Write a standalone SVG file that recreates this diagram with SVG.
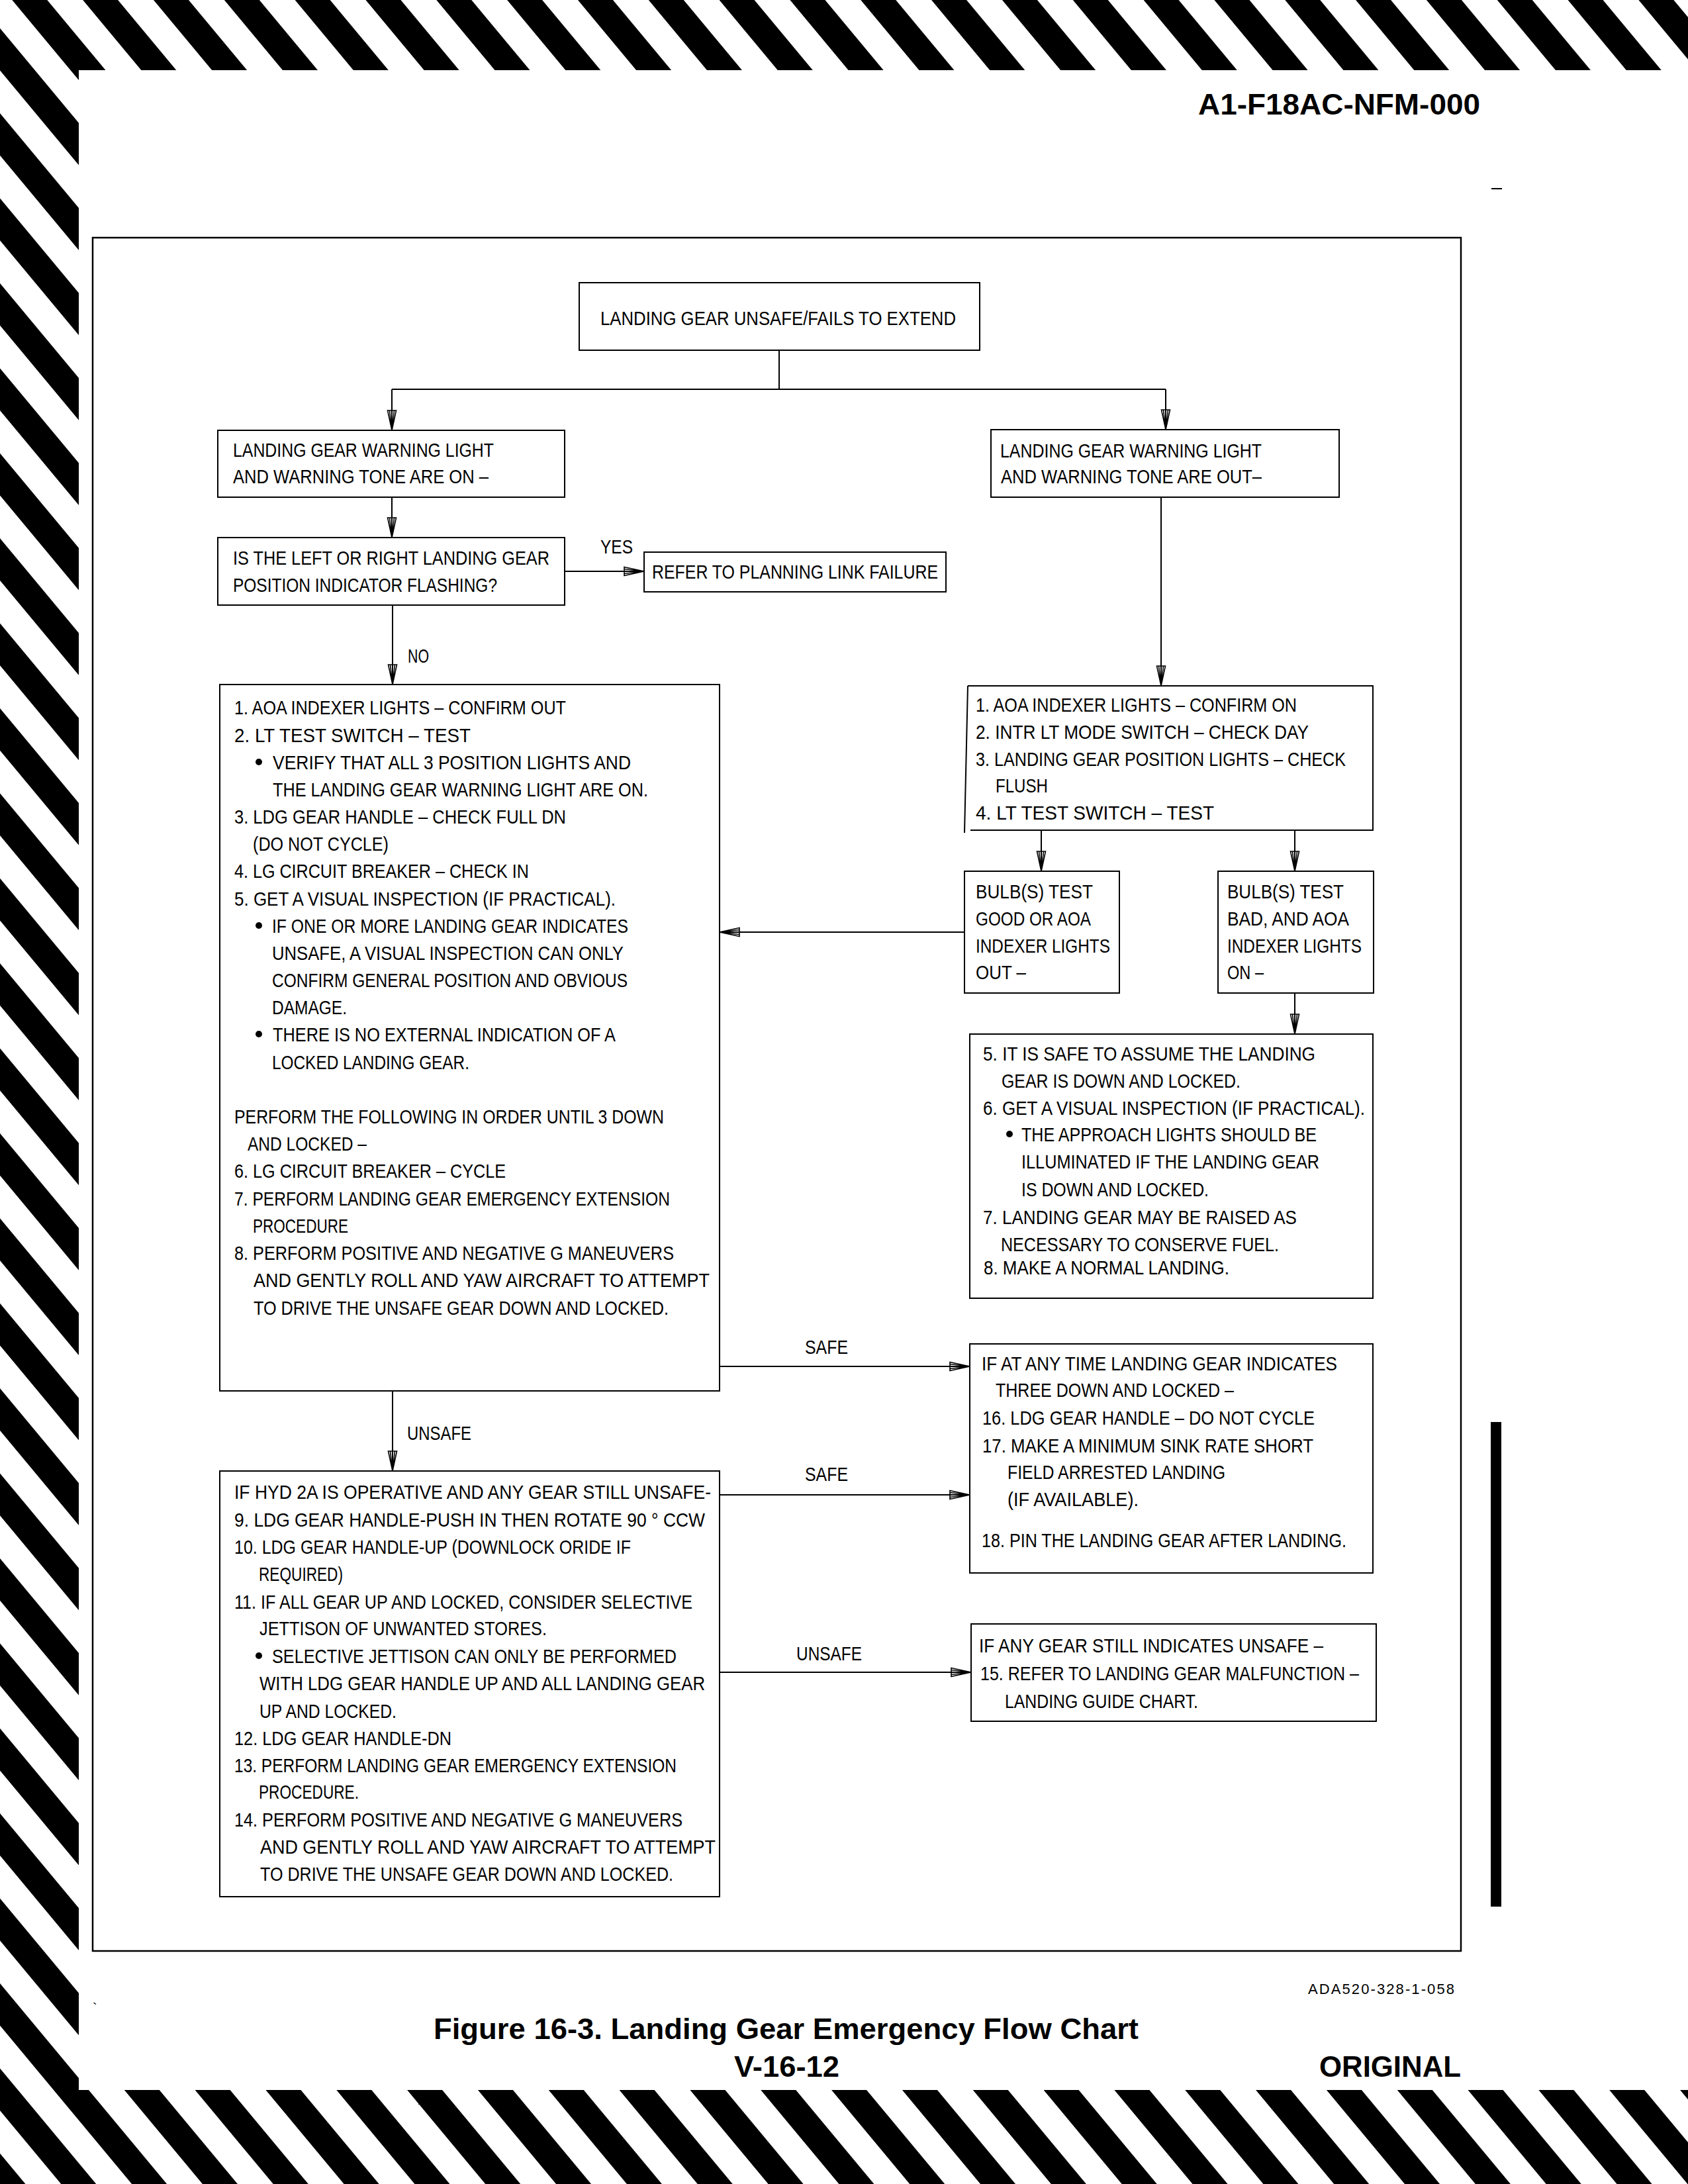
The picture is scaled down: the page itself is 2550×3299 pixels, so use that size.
<svg xmlns="http://www.w3.org/2000/svg" width="2550" height="3299" viewBox="0 0 2550 3299">
<defs>
<pattern id="haz" patternUnits="userSpaceOnUse" width="106.83" height="20" patternTransform="translate(18.3,0) skewX(39.76)">
<rect x="0" y="0" width="53" height="20" fill="#000"/>
</pattern>
<marker id="ah" markerUnits="userSpaceOnUse" markerWidth="34" markerHeight="16" refX="31" refY="8" orient="auto" overflow="visible">
<path d="M1,1.5 L31,8 L1,14.5 Z M1,4.5 L31,8 L1,11.5" fill="none" stroke="#000" stroke-width="1.6" stroke-linejoin="miter"/>
</marker>
<style>
.box{fill:#fff;stroke:#000;stroke-width:2}
.t{font-family:"Liberation Sans",Arial,Helvetica,sans-serif;font-size:30px;fill:#000}
.b{font-family:"Liberation Sans",Arial,Helvetica,sans-serif;font-weight:bold;fill:#000}
.c{stroke:#000;stroke-width:2;fill:none}
.ca{stroke:#000;stroke-width:2;fill:none;marker-end:url(#ah)}
</style>
</defs>

<g id="page">
<rect x="0" y="0" width="2550" height="3299" fill="#fff"/>
<rect x="0" y="0" width="2550" height="3299" fill="url(#haz)"/>
<rect x="119" y="106" width="2431" height="3051" fill="#fff"/>
<rect x="140" y="359" width="2067" height="2588" fill="none" stroke="#000" stroke-width="2.5"/>
<rect x="2252" y="2148" width="16" height="732" fill="#000"/>
<line x1="2253" y1="285" x2="2269" y2="285" stroke="#000" stroke-width="2"/>
<text class="b" x="2236" y="173" font-size="45" text-anchor="end" textLength="426" lengthAdjust="spacingAndGlyphs">A1-F18AC-NFM-000</text>
<text class="t" x="1976" y="3012" style="font-size:22px" textLength="221" lengthAdjust="spacing">ADA520-328-1-058</text>
<text class="t" x="140" y="3040" style="font-size:20px">`</text>
<text class="b" x="655" y="3080" font-size="45" textLength="1065" lengthAdjust="spacingAndGlyphs">Figure 16-3. Landing Gear Emergency Flow Chart</text>
<text class="b" x="1109" y="3137" font-size="45" textLength="159" lengthAdjust="spacingAndGlyphs">V-16-12</text>
<text class="b" x="1993" y="3137" font-size="45" textLength="214" lengthAdjust="spacingAndGlyphs">ORIGINAL</text>
</g>

<g id="connectors">
<polyline class="c" points="1177,529 1177,588"/>
<line class="c" x1="592" y1="588" x2="1761" y2="588"/>
<line class="ca" x1="592" y1="588" x2="592" y2="650"/>
<line class="ca" x1="1761" y1="588" x2="1761" y2="649"/>
<line class="ca" x1="592" y1="751" x2="592" y2="812"/>
<line class="ca" x1="853" y1="863" x2="973" y2="863"/>
<text class="t" x="907" y="836" textLength="49" lengthAdjust="spacingAndGlyphs">YES</text>
<line class="ca" x1="593" y1="914" x2="593" y2="1034"/>
<text class="t" x="616" y="1001" textLength="32" lengthAdjust="spacingAndGlyphs">NO</text>
<line class="ca" x1="1754" y1="751" x2="1754" y2="1036"/>
<line class="ca" x1="1573" y1="1254" x2="1573" y2="1316"/>
<line class="ca" x1="1956" y1="1254" x2="1956" y2="1316"/>
<line class="ca" x1="1457" y1="1408" x2="1087" y2="1408"/>
<line class="ca" x1="1956" y1="1500" x2="1956" y2="1562"/>
<line class="ca" x1="1087" y1="2064" x2="1465" y2="2064"/>
<text class="t" x="1216" y="2045" textLength="65" lengthAdjust="spacingAndGlyphs">SAFE</text>
<line class="ca" x1="593" y1="2101" x2="593" y2="2222"/>
<text class="t" x="615" y="2175" textLength="97" lengthAdjust="spacingAndGlyphs">UNSAFE</text>
<line class="ca" x1="1087" y1="2258" x2="1465" y2="2258"/>
<text class="t" x="1216" y="2237" textLength="65" lengthAdjust="spacingAndGlyphs">SAFE</text>
<line class="ca" x1="1087" y1="2526" x2="1467" y2="2526"/>
<text class="t" x="1203" y="2508" textLength="99" lengthAdjust="spacingAndGlyphs">UNSAFE</text>
</g>

<g id="n-start">
<rect class="box" x="875" y="427" width="605" height="102"/>
<text class="t" x="907" y="491" textLength="537" lengthAdjust="spacingAndGlyphs">LANDING GEAR UNSAFE/FAILS TO EXTEND</text>
</g>

<g id="n-lights-on">
<rect class="box" x="329" y="650" width="524" height="101"/>
<text class="t" x="352" y="690" textLength="394" lengthAdjust="spacingAndGlyphs">LANDING GEAR WARNING LIGHT</text>
<text class="t" x="352" y="730" textLength="386" lengthAdjust="spacingAndGlyphs">AND WARNING TONE ARE ON –</text>
</g>

<g id="n-flashing">
<rect class="box" x="329" y="812" width="524" height="102"/>
<text class="t" x="352" y="853" textLength="478" lengthAdjust="spacingAndGlyphs">IS THE LEFT OR RIGHT LANDING GEAR</text>
<text class="t" x="352" y="894" textLength="399" lengthAdjust="spacingAndGlyphs">POSITION INDICATOR FLASHING?</text>
</g>

<g id="n-planing">
<rect class="box" x="973" y="834" width="456" height="60"/>
<text class="t" x="985" y="874" textLength="432" lengthAdjust="spacingAndGlyphs">REFER TO PLANNING LINK FAILURE</text>
</g>

<g id="n-lights-out">
<rect class="box" x="1497" y="649" width="526" height="102"/>
<text class="t" x="1511" y="691" textLength="395" lengthAdjust="spacingAndGlyphs">LANDING GEAR WARNING LIGHT</text>
<text class="t" x="1512" y="730" textLength="394" lengthAdjust="spacingAndGlyphs">AND WARNING TONE ARE OUT–</text>
</g>

<g id="n-checks-on">
<path class="box" d="M1462,1036 L2074,1036 L2074,1254 L1466,1254 M1462,1036 L1457,1258"/>
<text class="t" x="1474" y="1075" textLength="485" lengthAdjust="spacingAndGlyphs">1. AOA INDEXER LIGHTS – CONFIRM ON</text>
<text class="t" x="1474" y="1116" textLength="503" lengthAdjust="spacingAndGlyphs">2. INTR LT MODE SWITCH – CHECK DAY</text>
<text class="t" x="1474" y="1157" textLength="559" lengthAdjust="spacingAndGlyphs">3. LANDING GEAR POSITION LIGHTS – CHECK</text>
<text class="t" x="1504" y="1197" textLength="79" lengthAdjust="spacingAndGlyphs">FLUSH</text>
<text class="t" x="1474" y="1238" textLength="360" lengthAdjust="spacingAndGlyphs">4. LT TEST SWITCH – TEST</text>
</g>

<g id="n-bulbs-good">
<rect class="box" x="1457" y="1316" width="234" height="184"/>
<text class="t" x="1474" y="1357" textLength="177" lengthAdjust="spacingAndGlyphs">BULB(S) TEST</text>
<text class="t" x="1474" y="1398" textLength="174" lengthAdjust="spacingAndGlyphs">GOOD OR AOA</text>
<text class="t" x="1474" y="1439" textLength="203" lengthAdjust="spacingAndGlyphs">INDEXER LIGHTS</text>
<text class="t" x="1474" y="1479" textLength="76" lengthAdjust="spacingAndGlyphs">OUT –</text>
</g>

<g id="n-bulbs-bad">
<rect class="box" x="1840" y="1316" width="235" height="184"/>
<text class="t" x="1854" y="1357" textLength="176" lengthAdjust="spacingAndGlyphs">BULB(S) TEST</text>
<text class="t" x="1854" y="1398" textLength="184" lengthAdjust="spacingAndGlyphs">BAD, AND AOA</text>
<text class="t" x="1854" y="1439" textLength="203" lengthAdjust="spacingAndGlyphs">INDEXER LIGHTS</text>
<text class="t" x="1854" y="1479" textLength="55" lengthAdjust="spacingAndGlyphs">ON –</text>
</g>

<g id="n-safe-assume">
<rect class="box" x="1465" y="1562" width="609" height="399"/>
<text class="t" x="1485" y="1602" textLength="502" lengthAdjust="spacingAndGlyphs">5. IT IS SAFE TO ASSUME THE LANDING</text>
<text class="t" x="1513" y="1643" textLength="361" lengthAdjust="spacingAndGlyphs">GEAR IS DOWN AND LOCKED.</text>
<text class="t" x="1485" y="1684" textLength="577" lengthAdjust="spacingAndGlyphs">6. GET A VISUAL INSPECTION (IF PRACTICAL).</text>
<circle cx="1525" cy="1713" r="5"/>
<text class="t" x="1543" y="1724" textLength="446" lengthAdjust="spacingAndGlyphs">THE APPROACH LIGHTS SHOULD BE</text>
<text class="t" x="1543" y="1765" textLength="450" lengthAdjust="spacingAndGlyphs">ILLUMINATED IF THE LANDING GEAR</text>
<text class="t" x="1543" y="1807" textLength="283" lengthAdjust="spacingAndGlyphs">IS DOWN AND LOCKED.</text>
<text class="t" x="1485" y="1849" textLength="474" lengthAdjust="spacingAndGlyphs">7. LANDING GEAR MAY BE RAISED AS</text>
<text class="t" x="1512" y="1890" textLength="420" lengthAdjust="spacingAndGlyphs">NECESSARY TO CONSERVE FUEL.</text>
<text class="t" x="1486" y="1925" textLength="371" lengthAdjust="spacingAndGlyphs">8. MAKE A NORMAL LANDING.</text>
</g>

<g id="n-three-down">
<rect class="box" x="1465" y="2030" width="609" height="346"/>
<text class="t" x="1483" y="2070" textLength="537" lengthAdjust="spacingAndGlyphs">IF AT ANY TIME LANDING GEAR INDICATES</text>
<text class="t" x="1504" y="2110" textLength="360" lengthAdjust="spacingAndGlyphs">THREE DOWN AND LOCKED –</text>
<text class="t" x="1484" y="2152" textLength="502" lengthAdjust="spacingAndGlyphs">16. LDG GEAR HANDLE – DO NOT CYCLE</text>
<text class="t" x="1484" y="2194" textLength="500" lengthAdjust="spacingAndGlyphs">17. MAKE A MINIMUM SINK RATE SHORT</text>
<text class="t" x="1522" y="2234" textLength="329" lengthAdjust="spacingAndGlyphs">FIELD ARRESTED LANDING</text>
<text class="t" x="1522" y="2275" textLength="198" lengthAdjust="spacingAndGlyphs">(IF AVAILABLE).</text>
<text class="t" x="1483" y="2337" textLength="551" lengthAdjust="spacingAndGlyphs">18. PIN THE LANDING GEAR AFTER LANDING.</text>
</g>

<g id="n-still-unsafe">
<rect class="box" x="1467" y="2453" width="612" height="147"/>
<text class="t" x="1479" y="2496" textLength="520" lengthAdjust="spacingAndGlyphs">IF ANY GEAR STILL INDICATES UNSAFE –</text>
<text class="t" x="1481" y="2538" textLength="572" lengthAdjust="spacingAndGlyphs">15. REFER TO LANDING GEAR MALFUNCTION –</text>
<text class="t" x="1518" y="2580" textLength="292" lengthAdjust="spacingAndGlyphs">LANDING GUIDE CHART.</text>
</g>

<g id="n-checks-out">
<rect class="box" x="332" y="1034" width="755" height="1067"/>
<text class="t" x="354" y="1079" textLength="501" lengthAdjust="spacingAndGlyphs">1. AOA INDEXER LIGHTS – CONFIRM OUT</text>
<text class="t" x="354" y="1121" textLength="357" lengthAdjust="spacingAndGlyphs">2. LT TEST SWITCH – TEST</text>
<circle cx="391" cy="1151" r="5"/>
<text class="t" x="412" y="1162" textLength="541" lengthAdjust="spacingAndGlyphs">VERIFY THAT ALL 3 POSITION LIGHTS AND</text>
<text class="t" x="412" y="1203" textLength="567" lengthAdjust="spacingAndGlyphs">THE LANDING GEAR WARNING LIGHT ARE ON.</text>
<text class="t" x="354" y="1244" textLength="501" lengthAdjust="spacingAndGlyphs">3. LDG GEAR HANDLE – CHECK FULL DN</text>
<text class="t" x="382" y="1285" textLength="205" lengthAdjust="spacingAndGlyphs">(DO NOT CYCLE)</text>
<text class="t" x="354" y="1326" textLength="445" lengthAdjust="spacingAndGlyphs">4. LG CIRCUIT BREAKER – CHECK IN</text>
<text class="t" x="354" y="1368" textLength="576" lengthAdjust="spacingAndGlyphs">5. GET A VISUAL INSPECTION (IF PRACTICAL).</text>
<circle cx="391" cy="1398" r="5"/>
<text class="t" x="411" y="1409" textLength="538" lengthAdjust="spacingAndGlyphs">IF ONE OR MORE LANDING GEAR INDICATES</text>
<text class="t" x="411" y="1450" textLength="531" lengthAdjust="spacingAndGlyphs">UNSAFE, A VISUAL INSPECTION CAN ONLY</text>
<text class="t" x="411" y="1491" textLength="537" lengthAdjust="spacingAndGlyphs">CONFIRM GENERAL POSITION AND OBVIOUS</text>
<text class="t" x="411" y="1532" textLength="113" lengthAdjust="spacingAndGlyphs">DAMAGE.</text>
<circle cx="391" cy="1562" r="5"/>
<text class="t" x="412" y="1573" textLength="518" lengthAdjust="spacingAndGlyphs">THERE IS NO EXTERNAL INDICATION OF A</text>
<text class="t" x="411" y="1615" textLength="298" lengthAdjust="spacingAndGlyphs">LOCKED LANDING GEAR.</text>
<text class="t" x="354" y="1697" textLength="649" lengthAdjust="spacingAndGlyphs">PERFORM THE FOLLOWING IN ORDER UNTIL 3 DOWN</text>
<text class="t" x="374" y="1738" textLength="180" lengthAdjust="spacingAndGlyphs">AND LOCKED –</text>
<text class="t" x="354" y="1779" textLength="410" lengthAdjust="spacingAndGlyphs">6. LG CIRCUIT BREAKER – CYCLE</text>
<text class="t" x="354" y="1821" textLength="658" lengthAdjust="spacingAndGlyphs">7. PERFORM LANDING GEAR EMERGENCY EXTENSION</text>
<text class="t" x="382" y="1862" textLength="144" lengthAdjust="spacingAndGlyphs">PROCEDURE</text>
<text class="t" x="354" y="1903" textLength="664" lengthAdjust="spacingAndGlyphs">8. PERFORM POSITIVE AND NEGATIVE G MANEUVERS</text>
<text class="t" x="383" y="1944" textLength="689" lengthAdjust="spacingAndGlyphs">AND GENTLY ROLL AND YAW AIRCRAFT TO ATTEMPT</text>
<text class="t" x="383" y="1986" textLength="627" lengthAdjust="spacingAndGlyphs">TO DRIVE THE UNSAFE GEAR DOWN AND LOCKED.</text>
</g>

<g id="n-hyd2a">
<rect class="box" x="332" y="2222" width="755" height="643"/>
<text class="t" x="354" y="2264" textLength="720" lengthAdjust="spacingAndGlyphs">IF HYD 2A IS OPERATIVE AND ANY GEAR STILL UNSAFE-</text>
<text class="t" x="354" y="2306" textLength="711" lengthAdjust="spacingAndGlyphs">9.  LDG GEAR HANDLE-PUSH IN THEN ROTATE 90 ° CCW</text>
<text class="t" x="354" y="2347" textLength="599" lengthAdjust="spacingAndGlyphs">10. LDG GEAR HANDLE-UP (DOWNLOCK ORIDE IF</text>
<text class="t" x="391" y="2388" textLength="127" lengthAdjust="spacingAndGlyphs">REQUIRED)</text>
<text class="t" x="354" y="2430" textLength="692" lengthAdjust="spacingAndGlyphs">11. IF ALL GEAR UP AND LOCKED, CONSIDER SELECTIVE</text>
<text class="t" x="392" y="2470" textLength="434" lengthAdjust="spacingAndGlyphs">JETTISON OF UNWANTED STORES.</text>
<circle cx="391" cy="2501" r="5"/>
<text class="t" x="411" y="2512" textLength="611" lengthAdjust="spacingAndGlyphs">SELECTIVE JETTISON CAN ONLY BE PERFORMED</text>
<text class="t" x="392" y="2553" textLength="673" lengthAdjust="spacingAndGlyphs">WITH LDG GEAR HANDLE UP AND ALL LANDING GEAR</text>
<text class="t" x="392" y="2595" textLength="207" lengthAdjust="spacingAndGlyphs">UP AND LOCKED.</text>
<text class="t" x="354" y="2636" textLength="328" lengthAdjust="spacingAndGlyphs">12. LDG GEAR HANDLE-DN</text>
<text class="t" x="354" y="2677" textLength="668" lengthAdjust="spacingAndGlyphs">13. PERFORM LANDING GEAR EMERGENCY EXTENSION</text>
<text class="t" x="391" y="2717" textLength="151" lengthAdjust="spacingAndGlyphs">PROCEDURE.</text>
<text class="t" x="354" y="2759" textLength="677" lengthAdjust="spacingAndGlyphs">14. PERFORM POSITIVE AND NEGATIVE G MANEUVERS</text>
<text class="t" x="393" y="2800" textLength="688" lengthAdjust="spacingAndGlyphs">AND GENTLY ROLL AND YAW AIRCRAFT TO ATTEMPT</text>
<text class="t" x="393" y="2841" textLength="624" lengthAdjust="spacingAndGlyphs">TO DRIVE THE UNSAFE GEAR DOWN AND LOCKED.</text>
</g>
</svg>
